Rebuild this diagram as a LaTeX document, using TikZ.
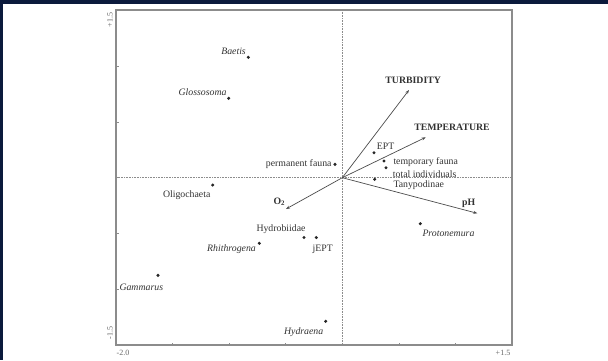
\documentclass[tikz,border=0pt]{standalone}
\usepackage{fontspec}
\setmainfont{Liberation Serif}
\usetikzlibrary{arrows.meta}
\definecolor{navyband}{HTML}{0B1A3C}
\definecolor{ink}{HTML}{333333}
\begin{document}
\begin{tikzpicture}[x=1pt,y=-1pt,
  lbl/.style={inner sep=0pt,font=\fontsize{9.8}{10}\selectfont,text=ink},
  ilbl/.style={lbl,font=\fontsize{9.8}{10}\selectfont\itshape},
  blbl/.style={lbl,font=\fontsize{9.8}{10}\selectfont\bfseries},
  tlbl/.style={inner sep=0pt,font=\fontsize{8}{9}\selectfont,text=black!60},
  pt/.style={circle,fill=black!85,inner sep=0pt,minimum size=3.4pt},
  vec/.style={draw=black!70,line width=0.7pt,-{Stealth[length=4pt,width=3pt]}},
  guide/.style={draw=black!45,line width=0.5pt,dash pattern=on 0.8pt off 0.8pt},
  frame/.style={draw=black!45,line width=1.3pt}]
\useasboundingbox (0,0) rectangle (608,360);
\fill[white] (0,0) rectangle (608,360);
\fill[navyband] (0,0) rectangle (608,3.5);
\fill[navyband] (0,0) rectangle (3,360);
% guides
\draw[guide] (342.3,10) -- (342.3,345);
\draw[guide] (116,177.7) -- (512,177.7);
% frame
\draw[frame] (116,10) rectangle (512,345);
% ticks
\foreach \xx in {172.6,229.2,285.7,342.3,398.8,455.4}
  \draw[black!45,line width=0.6pt] (\xx,345) -- (\xx,342.5);
\foreach \yy in {65.9,121.8,177.7,233.6,289.4}
  \draw[black!45,line width=0.6pt] (116,\yy) -- (118.5,\yy);
% tick labels
\node[tlbl,rotate=90] (ytop) at (110,20) {+1.5};
\node[tlbl,rotate=90] (ybot) at (110,333) {-1.5};
\node[tlbl] (xleft) at (123,353) {-2.0};
\node[tlbl] (xright) at (503,353) {+1.5};
% origin
\coordinate (O) at (342.3,177.7);
% environmental vectors
\coordinate (turb) at (409,90);
\coordinate (temp) at (425.7,137.3);
\coordinate (ph) at (477.3,213.3);
\coordinate (oxy) at (286,209);
\draw[vec] (O) -- (turb);
\draw[vec] (O) -- (temp);
\draw[vec] (O) -- (ph);
\draw[vec] (O) -- (oxy);
\node[blbl] (turbl) at (413.2,80.7) {TURBIDITY};
\node[blbl] (templ) at (452,127.3) {TEMPERATURE};
\node[blbl] (phl) at (468.7,203.3) {pH};
\node[blbl] (oxyl) at (279.3,201.5) {O\textsubscript{2}};
% species / groups
\node[pt] (baetis) at (248.3,57.3) {};
\node[ilbl,anchor=east] (baetisl) at (246,51.7) {Baetis};
\node[pt] (gloss) at (228.7,98.3) {};
\node[ilbl,anchor=east] (glossl) at (226.7,92.3) {Glossosoma};
\node[pt] (perm) at (335,164.3) {};
\node[lbl,anchor=east] (perml) at (331.7,164.3) {permanent fauna};
\node[pt] (oligo) at (212.7,185) {};
\node[lbl] (oligol) at (186.7,195) {Oligochaeta};
\node[pt] (hydrob) at (304,237.5) {};
\node[lbl] (hydrobl) at (281,229.3) {Hydrobiidae};
\node[pt] (jept) at (316.3,237.5) {};
\node[lbl] (jeptl) at (322.8,249.3) {jEPT};
\node[pt] (rhith) at (259.3,243.3) {};
\node[ilbl,anchor=east] (rhithl) at (256,249.3) {Rhithrogena};
\node[pt] (gamm) at (158,275.3) {};
\node[ilbl] (gamml) at (141.3,287.3) {Gammarus};
\node[pt] (hydra) at (325.7,321.3) {};
\node[ilbl] (hydral) at (303.7,331.7) {Hydraena};
\node[pt] (proto) at (420.3,223.7) {};
\node[ilbl,anchor=west] (protol) at (422.3,233.3) {Protonemura};
\node[pt] (tany) at (374.7,179.3) {};
\node[lbl,anchor=west] (tanyl) at (393.3,185) {Tanypodinae};
\node[pt] (total) at (386,167.7) {};
\node[lbl,anchor=west] (totall) at (392.7,174) {total individuals};
\node[pt] (temporary) at (384,161) {};
\node[lbl,anchor=west] (temporaryl) at (393.3,162.3) {temporary fauna};
\node[pt] (ept) at (374,152.7) {};
\node[lbl,anchor=west] (eptl) at (376.7,146) {EPT};
\end{tikzpicture}
\end{document}
